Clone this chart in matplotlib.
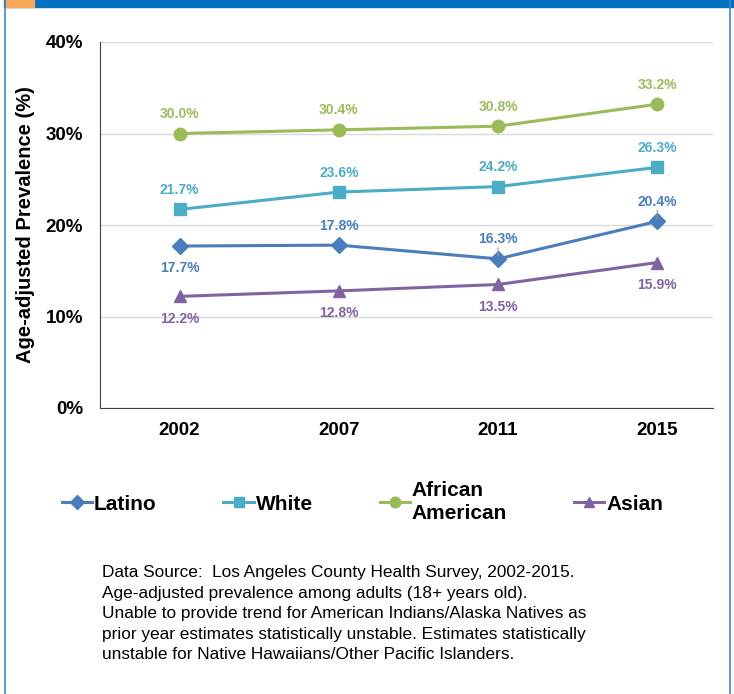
import matplotlib.pyplot as plt
from matplotlib.patches import Rectangle
from matplotlib.lines import Line2D

plt.rcParams['font.family'] = ['Liberation Sans', 'DejaVu Sans']

years = ["2002", "2007", "2011", "2015"]
latino = [17.7, 17.8, 16.3, 20.4]
white = [21.7, 23.6, 24.2, 26.3]
african_american = [30.0, 30.4, 30.8, 33.2]
asian = [12.2, 12.8, 13.5, 15.9]

series = [
    ("Latino", latino, "#4a7ebb", "D", 8, ["below", "above", "above", "above"]),
    ("White", white, "#4bacc6", "s", 9, ["above"] * 4),
    ("African\nAmerican", african_american, "#9bbb59", "o", 9, ["above"] * 4),
    ("Asian", asian, "#8064a2", "^", 9, ["below"] * 4),
]
leader = {("Latino", 2), ("Latino", 3)}

fig = plt.figure(figsize=(7.34, 6.94), dpi=100)
W, H = 734, 694

# frame decoration
fig.patches.append(Rectangle((4 / W, 1 - 7 / H), 1, 7 / H, transform=fig.transFigure,
                             color="#0070c0", zorder=0))
fig.patches.append(Rectangle((6 / W, 1 - 7 / H), 28 / W, 7 / H, transform=fig.transFigure,
                             color="#f9a85b", zorder=1))
fig.add_artist(Line2D([4.5 / W, 4.5 / W], [0, 1], transform=fig.transFigure, color="#3b87c9", lw=1.2))
fig.add_artist(Line2D([730 / W, 730 / W], [0, 1], transform=fig.transFigure, color="#3b87c9", lw=1.2))

ax = fig.add_axes([100 / W, (H - 408) / H, 613 / W, 366 / H])
x = range(len(years))

for name, vals, color, marker, ms, pos in series:
    ax.plot(x, vals, color=color, lw=2.2, marker=marker, markersize=ms, label=name, zorder=3)
    for i, v in enumerate(vals):
        dy = 14 if pos[i] == "above" else -16
        if (name, i) in leader:
            ax.annotate("", xy=(i, v), xytext=(0, 10), textcoords="offset points",
                        arrowprops=dict(arrowstyle="-", color="#999999", lw=0.8))
        ax.annotate(f"{v:.1f}%", xy=(i, v), xytext=(0, dy), textcoords="offset points",
                    ha="center", va="center", color=color, fontsize=10, fontweight="bold")

ax.set_ylim(0, 40)
ax.set_xlim(-0.5, 3.35)
ax.set_yticks([0, 10, 20, 30, 40])
ax.set_yticklabels(["0%", "10%", "20%", "30%", "40%"], fontsize=13.5, fontweight="bold")
ax.set_xticks(list(x))
ax.set_xticklabels(years, fontsize=13.5, fontweight="bold")
ax.tick_params(length=0, pad=12)
ax.tick_params(axis="x", pad=10)
ax.grid(axis="y", color="#d9d9d9", lw=1)
ax.set_axisbelow(True)
for s in ["top", "right"]:
    ax.spines[s].set_visible(False)
ax.spines["left"].set_color("#404040")
ax.spines["bottom"].set_color("#404040")
ax.set_ylabel("Age-adjusted Prevalence (%)", fontsize=14.5, fontweight="bold", labelpad=8)

leg = fig.legend(loc="center left", bbox_to_anchor=(43 / W, 1 - 502 / H), ncol=4, frameon=False,
                 prop=dict(size=15, weight="bold"), handlelength=1.45, handletextpad=0.1,
                 columnspacing=3.2, markerscale=0.85)
for t in leg.get_texts():
    t.set_linespacing(1.3)

note = ("Data Source:  Los Angeles County Health Survey, 2002-2015.\n"
        "Age-adjusted prevalence among adults (18+ years old).\n"
        "Unable to provide trend for American Indians/Alaska Natives as\n"
        "prior year estimates statistically unstable. Estimates statistically\n"
        "unstable for Native Hawaiians/Other Pacific Islanders.")
fig.text(102 / W, 1 - 565 / H, note, fontsize=12.4, va="top", ha="left", linespacing=1.46)

fig.savefig("out.png", dpi=100)
